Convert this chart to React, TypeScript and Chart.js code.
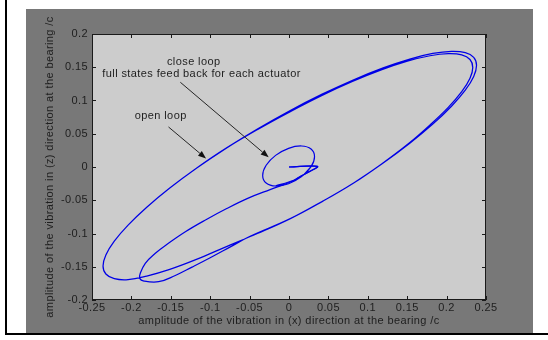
import React, { useEffect, useRef } from 'react';
import { Chart, registerables } from 'chart.js';

Chart.register(...registerables);

const xTickValues = [-0.25, -0.2, -0.15, -0.1, -0.05, 0, 0.05, 0.1, 0.15, 0.2, 0.25];
const xTickLabels = ['-0.25', '-0.2', '-0.15', '-0.1', '-0.05', '0', '0.05', '0.1', '0.15', '0.2', '0.25'];
const yTickValues = [-0.2, -0.15, -0.1, -0.05, 0, 0.05, 0.1, 0.15, 0.2];
const yTickLabels = ['-0.2', '-0.15', '-0.1', '-0.05', '0', '0.05', '0.1', '0.15', '0.2'];

const xTitle = 'amplitude of the vibration in (x) direction at the bearing /c';
const yTitle = 'amplitude of the vibration in (z) direction at the bearing /c';

// open loop trajectory: start near the origin, transient, then two turns of the large orbit
const openLoopX = [
  0, 0.036, 0.026, 0.013, 0.004, -0.024, -0.051, -0.079, -0.106, -0.131, -0.153, -0.17, -0.1824, -0.1887, -0.1895, -0.184,
  -0.1654, -0.145, -0.123, -0.1, -0.075, -0.05,
  0.001, 0.042, 0.0821, 0.1195, 0.1533, 0.1825, 0.2062, 0.2237, 0.2344, 0.238, 0.2344, 0.2237, 0.2062, 0.1825, 0.1533,
  0.1195, 0.0821, 0.0421, 0.001, -0.0401, -0.0801, -0.1175, -0.1513, -0.1805, -0.2042, -0.2217, -0.2324, -0.236, -0.2324,
  -0.2217, -0.2042, -0.1805, -0.1513, -0.1175, -0.0801, -0.0401,
  0.001, 0.042, 0.0815, 0.118, 0.1518, 0.1789, 0.2021, 0.2192, 0.2297, 0.2332, 0.2297, 0.2192, 0.2021, 0.1789, 0.1502,
  0.1171, 0.0805, 0.0413, 0.001, -0.0397, -0.0801, -0.1175, -0.1513, -0.1805, -0.2042, -0.2217, -0.2324, -0.236, -0.2324,
  -0.2217, -0.2042, -0.1805, -0.1513, -0.1175, -0.0801, -0.0401, 0.001, 0.042,
];
const openLoopY = [
  0, 0.001, -0.007, -0.015, -0.0215, -0.034, -0.0465, -0.0625, -0.0797, -0.097, -0.1147, -0.13, -0.1448, -0.1598, -0.1675, -0.1715,
  -0.1725, -0.1635, -0.1505, -0.1365, -0.1205, -0.1045,
  -0.078, -0.052, -0.024, 0.0059, 0.0357, 0.0645, 0.0914, 0.1155, 0.1362, 0.1529, 0.1649, 0.172, 0.1739, 0.1707, 0.1623,
  0.149, 0.1312, 0.1095, 0.0846, 0.0571, 0.028, -0.0019, -0.0317, -0.0605, -0.0874, -0.1115, -0.1322, -0.1489, -0.1609,
  -0.168, -0.1695, -0.164, -0.154, -0.139, -0.12, -0.1,
  -0.078, -0.052, -0.0245, 0.005, 0.0353, 0.0632, 0.0896, 0.1132, 0.1335, 0.1498, 0.1616, 0.1686, 0.1704, 0.1673, 0.1591,
  0.146, 0.1286, 0.1073, 0.0829, 0.0565, 0.028, -0.0019, -0.0317, -0.0605, -0.0874, -0.1115, -0.1322, -0.1489, -0.1609,
  -0.168, -0.1695, -0.164, -0.154, -0.139, -0.12, -0.1, -0.078, -0.052,
];

// close loop trajectory: small orbit around the origin
const closeLoopX = [
  0, 0.036, 0.024, 0.006, -0.017, -0.0005, 0.016, 0.028, 0.0324, 0.028, 0.016, -0.0005, -0.017, -0.029, -0.0334, -0.029,
  -0.017, -0.0005, 0.016, 0.028,
];
const closeLoopY = [
  0, 0.001, -0.008, -0.02, -0.0286, -0.0251, -0.0145, 0.0005, 0.0156, 0.027, 0.0316, 0.0281, 0.0175, 0.0026, -0.0126, -0.024,
  -0.0286, -0.0251, -0.0145, 0.0005,
];

const noteTexts = ['close loop', 'full states feed back for each actuator', 'open loop'];
const noteX = [-0.1209, -0.111, -0.1628];
const noteY = [0.1574, 0.1398, 0.0771];

const arrowFromX = [-0.1529, -0.1379];
const arrowFromY = [0.0602, 0.1274];
const arrowToX = [-0.1053, -0.0258];
const arrowToY = [0.0128, 0.0146];

const FONT = "'Liberation Sans', Arial, Helvetica, sans-serif";
const TEXT = '#1e1e1e';

const toPoints = (xs: number[], ys: number[]) => xs.map((x, i) => ({ x, y: ys[i] }));

const matlabPlugin = {
  id: 'matlabFrame',
  beforeDraw(chart: any) {
    const { ctx, chartArea: a } = chart;
    try { (ctx as any).letterSpacing = '0.4px'; } catch (e) { /* ignore */ }
    ctx.save();
    ctx.fillStyle = '#cccccc';
    ctx.fillRect(a.left, a.top, a.right - a.left, a.bottom - a.top);
    ctx.restore();
  },
  afterDatasetsDraw(chart: any) {
    const { ctx, chartArea: a, scales } = chart;
    const xs = scales.x;
    const ys = scales.y;
    ctx.save();
    ctx.strokeStyle = '#1a1a1a';
    ctx.lineWidth = 1;
    ctx.strokeRect(a.left + 0.5, a.top + 0.5, a.right - a.left - 1, a.bottom - a.top - 1);
    const tl = 4;
    ctx.beginPath();
    xTickValues.forEach((v) => {
      const px = Math.round(xs.getPixelForValue(v)) + 0.5;
      ctx.moveTo(px, a.bottom);
      ctx.lineTo(px, a.bottom - tl);
      ctx.moveTo(px, a.top);
      ctx.lineTo(px, a.top + tl);
    });
    yTickValues.forEach((v) => {
      const py = Math.round(ys.getPixelForValue(v)) + 0.5;
      ctx.moveTo(a.left, py);
      ctx.lineTo(a.left + tl, py);
      ctx.moveTo(a.right, py);
      ctx.lineTo(a.right - tl, py);
    });
    ctx.stroke();

    ctx.fillStyle = TEXT;
    ctx.font = `11px ${FONT}`;
    ctx.textAlign = 'center';
    ctx.textBaseline = 'middle';
    noteTexts.forEach((t, i) => {
      ctx.fillText(t, xs.getPixelForValue(noteX[i]), ys.getPixelForValue(noteY[i]));
    });

    ctx.strokeStyle = '#262626';
    ctx.fillStyle = '#111111';
    arrowFromX.forEach((_, i) => {
      const x0 = xs.getPixelForValue(arrowFromX[i]);
      const y0 = ys.getPixelForValue(arrowFromY[i]);
      const x1 = xs.getPixelForValue(arrowToX[i]);
      const y1 = ys.getPixelForValue(arrowToY[i]);
      const ang = Math.atan2(y1 - y0, x1 - x0);
      const len = 8;
      const hw = 3;
      const bx = x1 - len * Math.cos(ang);
      const by = y1 - len * Math.sin(ang);
      ctx.beginPath();
      ctx.moveTo(x0, y0);
      ctx.lineTo(bx, by);
      ctx.stroke();
      ctx.beginPath();
      ctx.moveTo(x1, y1);
      ctx.lineTo(bx + hw * Math.sin(ang), by - hw * Math.cos(ang));
      ctx.lineTo(bx - hw * Math.sin(ang), by + hw * Math.cos(ang));
      ctx.closePath();
      ctx.fill();
    });
    ctx.restore();
  },
};

const labelFor = (values: number[], labels: string[], v: number) => {
  const i = values.findIndex((t) => Math.abs(t - v) < 1e-9);
  return i >= 0 ? labels[i] : '';
};

export default function App() {
  const canvasRef = useRef<HTMLCanvasElement | null>(null);

  useEffect(() => {
    const canvas = canvasRef.current;
    if (!canvas) return;
    const chart = new Chart(canvas, {
      type: 'scatter',
      data: {
        datasets: [
          {
            label: 'open loop',
            data: toPoints(openLoopX, openLoopY),
            showLine: true,
            borderColor: '#0000e6',
            borderWidth: 1.25,
            pointRadius: 0,
            tension: 0.4,
          },
          {
            label: 'close loop',
            data: toPoints(closeLoopX, closeLoopY),
            showLine: true,
            borderColor: '#0000e6',
            borderWidth: 1.2,
            pointRadius: 0,
            tension: 0.35,
          },
        ],
      },
      options: {
        animation: false,
        responsive: false,
        maintainAspectRatio: false,
        events: [],
        layout: { padding: { top: 25, right: 47, left: 0, bottom: 0 } },
        plugins: { legend: { display: false }, tooltip: { enabled: false } },
        scales: {
          x: {
            type: 'linear',
            min: -0.25,
            max: 0.25,
            grid: { display: false, drawTicks: false },
            border: { display: false },
            afterBuildTicks: (s: any) => {
              s.ticks = xTickValues.map((v) => ({ value: v }));
            },
            afterFit: (s: any) => {
              s.height = 33;
            },
            ticks: {
              padding: 1,
              color: TEXT,
              font: { family: FONT, size: 11 },
              maxRotation: 0,
              autoSkip: false,
              callback: (v: any) => labelFor(xTickValues, xTickLabels, Number(v)),
            },
            title: {
              display: true,
              text: xTitle,
              color: TEXT,
              font: { family: FONT, size: 11 },
              padding: { top: 0, bottom: 5.4 },
            },
          },
          y: {
            type: 'linear',
            min: -0.2,
            max: 0.2,
            grid: { display: false, drawTicks: false },
            border: { display: false },
            afterBuildTicks: (s: any) => {
              s.ticks = yTickValues.map((v) => ({ value: v }));
            },
            afterFit: (s: any) => {
              s.width = 66;
            },
            ticks: {
              padding: 4,
              color: TEXT,
              font: { family: FONT, size: 11 },
              autoSkip: false,
              callback: (v: any) => labelFor(yTickValues, yTickLabels, Number(v)),
            },
            title: {
              display: true,
              text: yTitle,
              color: TEXT,
              font: { family: FONT, size: 11 },
              padding: { top: 17.4, bottom: 0 },
            },
          },
        },
      },
      plugins: [matlabPlugin],
    } as any);
    return () => chart.destroy();
  }, []);

  return (
    <div style={{ position: 'absolute', left: 0, top: 0, width: 548, height: 340, background: '#ffffff', overflow: 'hidden' }}>
      <div style={{ position: 'absolute', left: 5, top: 0, width: 2, height: 335, background: '#000000' }} />
      <div style={{ position: 'absolute', left: 5, top: 333, width: 543, height: 2, background: '#000000' }} />
      <div style={{ position: 'absolute', left: 26, top: 9, width: 507, height: 324, background: '#787878' }}>
        <canvas ref={canvasRef} width={507} height={324} style={{ display: 'block', width: 507, height: 324 }} />
      </div>
    </div>
  );
}
